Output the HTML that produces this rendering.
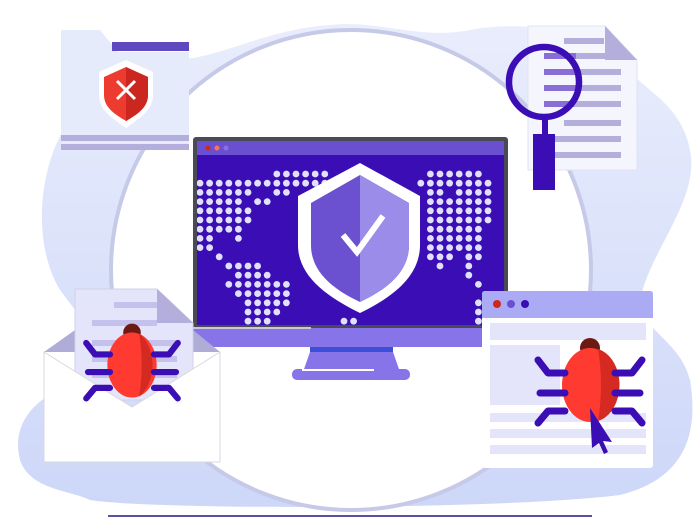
<!DOCTYPE html>
<html><head><meta charset="utf-8"><style>html,body{margin:0;padding:0;background:#fff}svg{display:block}</style></head>
<body>
<svg id="s" width="700" height="529" viewBox="0 0 700 529" xmlns="http://www.w3.org/2000/svg">
<defs>
<linearGradient id="bg" x1="0" y1="0" x2="0" y2="1"><stop offset="0" stop-color="#e9edfc"/><stop offset="1" stop-color="#cdd7f8"/></linearGradient>
<clipPath id="scr"><rect x="197" y="155" width="307" height="170"/></clipPath>
</defs>
<path d="M70,120 C40,160 30,240 60,290 C90,330 110,350 90,380 C40,390 10,420 20,460 C30,490 70,490 90,500 C150,510 500,510 620,495 C680,480 700,440 690,380 C680,340 640,330 640,300 C650,250 700,200 690,150 C680,100 640,90 620,60 C590,30 520,20 470,30 C420,40 380,20 330,25 C260,30 220,60 170,60 C120,60 100,80 70,120 Z" fill="url(#bg)"/>
<ellipse cx="351" cy="270" rx="240" ry="240" fill="#fff" stroke="#c6c9e7" stroke-width="4"/>
<rect x="108" y="515" width="484" height="2" fill="#5f4fa0"/>

<!-- folder -->
<path d="M61,30 L100,30 L118,52 L189,52 L189,150 L61,150 Z" fill="#e6ebfb"/>
<rect x="112" y="42" width="77" height="9" fill="#6048c0"/>
<rect x="61" y="135" width="128" height="6" fill="#b3aedb"/>
<rect x="61" y="144" width="128" height="6" fill="#b3aedb"/>
<path d="M126,60 L153,72 L153,95 C153,110 140,118 126,128 C112,118 99,110 99,95 L99,72 Z" fill="#fff"/>
<path d="M126,67 L148,77 L148,95 C148,107 138,114 126,121 C114,114 104,107 104,95 L104,77 Z" fill="#ee3b30"/>
<path d="M126,67 L148,77 L148,95 C148,107 138,114 126,121 Z" fill="#cc2620"/>
<path d="M117,81 L135,99 M135,81 L117,99" stroke="#fff" stroke-width="3"/>

<!-- document -->
<path d="M528,26 L605,26 L637,60 L637,170 L528,170 Z" fill="#f5f6fd" stroke="#e0e2f2"/>
<path d="M605,26 L637,60 L605,60 Z" fill="#b3aedb"/>
<g fill="#b3aedb">
<rect x="564" y="38" width="40" height="6"/>
<rect x="544" y="53" width="77" height="6"/><rect x="544" y="69" width="77" height="6"/>
<rect x="544" y="85" width="77" height="6"/><rect x="544" y="101" width="77" height="6"/>
<rect x="564" y="120" width="57" height="6"/><rect x="555" y="136" width="66" height="6"/>
<rect x="555" y="152" width="66" height="6"/>
</g>
<g fill="#8a6ed8"><rect x="544" y="53" width="32" height="6"/><rect x="544" y="69" width="32" height="6"/><rect x="544" y="85" width="32" height="6"/><rect x="544" y="101" width="30" height="6"/></g>
<circle cx="544" cy="82" r="35" fill="none" stroke="#3b0db5" stroke-width="6.5"/>
<rect x="542" y="118" width="6" height="17" fill="#3b0db5"/>
<rect x="533" y="134" width="22" height="56" fill="#3b0db5"/>

<!-- monitor -->
<rect x="193" y="137" width="315" height="193" rx="3" fill="#4a4a55"/>
<rect x="197" y="141" width="307" height="14" fill="#6a50d0"/>
<circle cx="208" cy="148" r="2.5" fill="#d0281c"/><circle cx="217" cy="148" r="2.5" fill="#ff7050"/><circle cx="226" cy="148" r="2.5" fill="#8a70e0"/>
<rect x="197" y="155" width="307" height="170" fill="#3a0db5"/>
<g id="dots" clip-path="url(#scr)" fill="#e0e0fb"></g>
<rect x="193" y="328" width="315" height="19" fill="#8674e8"/>
<rect x="193" y="327" width="118" height="2" fill="#c8c8d8"/>
<rect x="310" y="347" width="83" height="5" fill="#3d4fd8"/>
<path d="M310,352 L393,352 L400,372 L303,372 Z" fill="#8674e8"/>
<rect x="292" y="369" width="118" height="11" rx="5" fill="#8674e8"/>
<rect x="302" y="369" width="72" height="2" fill="#fff"/>
<path d="M360,163 L420,196 L420,245 C420,275 395,296 360,313 C325,296 298,275 298,245 L298,196 Z" fill="#fff"/>
<path d="M360,175 L409,203 L409,245 C409,270 390,288 360,302 C330,288 311,270 311,245 L311,203 Z" fill="#6b50d0"/>
<path d="M360,175 L409,203 L409,245 C409,270 390,288 360,302 Z" fill="#9a8ce8"/>
<path d="M343,235 L357,252 L383,216" fill="none" stroke="#fff" stroke-width="6"/>

<!-- envelope -->
<path d="M44,352 L75,330 L193,330 L220,352 Z" fill="#b0acd8"/>
<path d="M75,289 L157,289 L193,323 L193,400 L75,400 Z" fill="#e4e4fb" stroke="#d0d0e8"/>
<path d="M157,289 L193,323 L157,323 Z" fill="#b3aedb"/>
<g fill="#c4c2ec"><rect x="114" y="302" width="43" height="6"/><rect x="92" y="320" width="65" height="6"/><rect x="92" y="340" width="85" height="6"/><rect x="92" y="356" width="85" height="6"/><rect x="92" y="372" width="85" height="6"/></g>
<path d="M44,352 L132,407 L220,352 L220,462 L44,462 Z" fill="#fff" stroke="#d8d8e0"/>
<g id="bug1"></g>

<!-- browser -->
<rect x="482" y="291" width="171" height="177" rx="3" fill="#fff"/>
<path d="M482,294 Q482,291 485,291 L650,291 Q653,291 653,294 L653,318 L482,318 Z" fill="#aaaaf5"/>
<circle cx="497" cy="304" r="4" fill="#d0281c"/><circle cx="511" cy="304" r="4" fill="#6a50d0"/><circle cx="525" cy="304" r="4" fill="#3a0db5"/>
<g fill="#e4e4fb"><rect x="490" y="323" width="156" height="17"/><rect x="490" y="345" width="70" height="60"/><rect x="490" y="413" width="156" height="9"/><rect x="490" y="429" width="156" height="9"/><rect x="490" y="445" width="156" height="9"/></g>
<g id="bug2"></g>
<path d="M590,408 L612,442 L603,441 L608,452 L604,454 L599,443 L592,448 Z" fill="#3a0db5"/>

<script>
var ns="http://www.w3.org/2000/svg";
function el(p,t,a){var e=document.createElementNS(ns,t);for(var k in a)e.setAttribute(k,a[k]);p.appendChild(e);return e;}
var rows={0:[[8,13],[24,29]],1:[[0,13],[23,30]],2:[[0,5],[8,9],[24,25],[27,30]],3:[[0,4],[6,7],[24,30]],4:[[0,5],[24,30]],5:[[0,5],[24,30]],6:[[0,4],[24,29]],7:[[0,1],[4,4],[24,29]],8:[[0,1],[24,29]],9:[[2,2],[24,26],[28,29]],10:[[3,6],[25,25],[28,28]],11:[[4,7],[28,28]],12:[[3,9],[29,29]],13:[[4,9]],14:[[5,9],[29,30]],15:[[5,8],[29,30]],16:[[5,7],[15,16],[29,30]]};
var g=document.getElementById('dots');
for(var r in rows){rows[r].forEach(function(s){for(var c=s[0];c<=s[1];c++)el(g,'circle',{cx:200+9.6*c,cy:174+9.2*r,r:3.4});});}
function bug(id,x,y,s){var g=document.getElementById(id);
el(g,'circle',{cx:x,cy:y-37*s,r:10*s,fill:'#6e1a14'});
el(g,'ellipse',{cx:x,cy:y,rx:28*s,ry:37*s,fill:'#ff3a30'});
el(g,'path',{d:'M'+(x+8*s)+','+(y-36*s)+' A28,37 0 0 1 '+(x+8*s)+','+(y+36*s)+' Q'+(x+14*s)+','+y+' '+(x+8*s)+','+(y-36*s)+'Z',fill:'#d42a22'});
var L=[[[-25,-12],[-42,-12],[-52,-25]],[[-25,8],[-50,8]],[[-25,26],[-42,26],[-52,38]]];
L.forEach(function(l){[1,-1].forEach(function(m){var d='M'+l.map(function(p){return (x+m*p[0]*s)+','+(y+p[1]*s)}).join(' L');
el(g,'path',{d:d,fill:'none',stroke:'#3a0db5','stroke-width':7*s,'stroke-linecap':'round','stroke-linejoin':'round'});});});}
bug('bug1',132,365,0.88);bug('bug2',590,385,1);
</script>
</svg>
</body></html>
